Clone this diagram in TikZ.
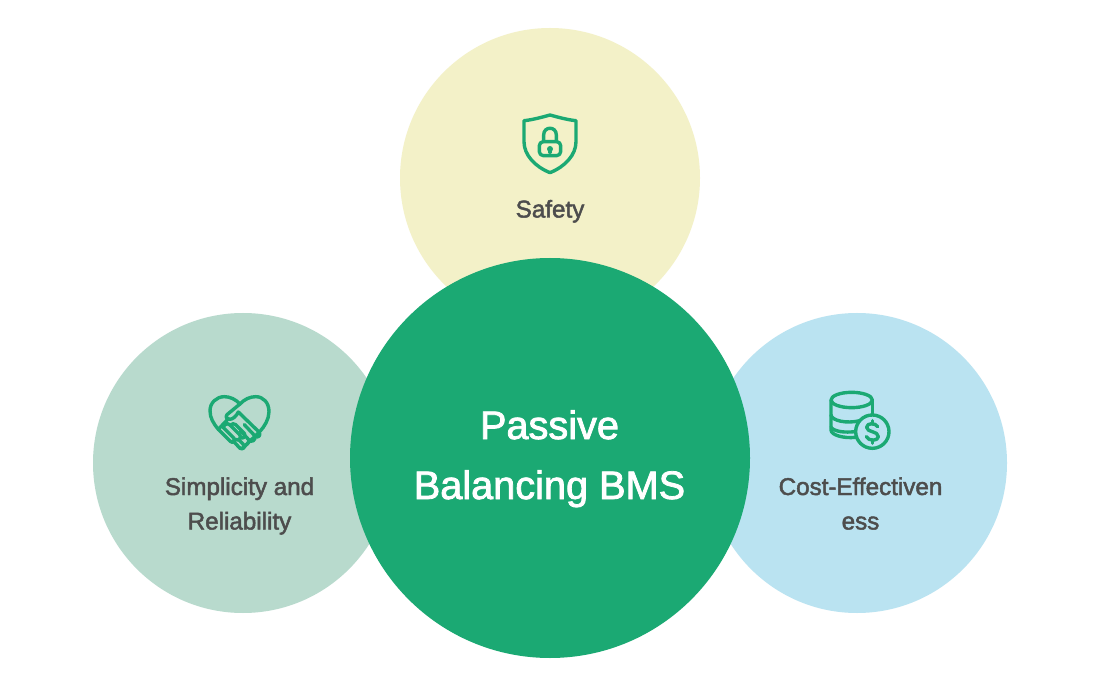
\documentclass[tikz,border=0pt]{standalone}
\usepackage{fontspec}
\setmainfont[FakeBold=2]{Liberation Sans}
\definecolor{cTop}{HTML}{F3F1C8}
\definecolor{cLeft}{HTML}{B8DACD}
\definecolor{cRight}{HTML}{BAE3F1}
\definecolor{cMain}{HTML}{1BA973}
\definecolor{cText}{HTML}{4D4D4D}
\tikzset{
  x=1pt,y=-1pt,
  disc/.style={circle,minimum size=#1,inner sep=0pt,outer sep=0pt,draw=none},
  smalltxt/.style={text=cText,align=center,anchor=base,font=\fontsize{24.2}{34.5}\selectfont,inner sep=0pt},
  bigtxt/.style={text=white,align=center,anchor=base,font=\fontsize{39.7}{60}\selectfont,inner sep=0pt},
  icon/.style={draw=cMain,line width=3.4pt,line cap=round,line join=round,fill=none},
}
\begin{document}
\begin{tikzpicture}
\useasboundingbox (0,0) rectangle (1100,700);
\fill[white] (0,0) rectangle (1100,700);
\node[disc=300pt,fill=cTop] (top) at (550,178) {};
\node[disc=300pt,fill=cLeft] (left) at (243,463) {};
\node[disc=300pt,fill=cRight] (right) at (857,463) {};
\node[disc=400pt,fill=cMain] (main) at (550,458) {};
\node[bigtxt] (maintxt) at (549.5,499) {Passive\\Balancing BMS};
\node[smalltxt] (safety) at (550,217.5) {Safety};
\node[smalltxt] (simp) at (239.5,529.5) {Simplicity and\\Reliability};
\node[smalltxt] (cost) at (860.5,529.5) {Cost-Effectiven\\ess};
% shield
\begin{scope}[shift={(500,100)},x=0.3333pt,y=-0.3333pt]
\draw[icon] (150,45) .. controls (125,52) and (95,60) .. (72,62)
  -- (72,125) .. controls (72,165) and (105,200) .. (150,218)
  .. controls (195,200) and (228,165) .. (228,125) -- (228,62)
  .. controls (205,60) and (175,52) .. (150,45) -- cycle;
\draw[icon] (131,124) -- (131,105) .. controls (131,78) and (169,78) .. (169,105) -- (169,124);
\draw[icon,rounded corners=4pt] (118,125) rectangle (182,167);
\fill[cMain] (150,147) circle (9);
\draw[icon] (150,147) -- (150,157);
\end{scope}
% heart and handshake
\begin{scope}[shift={(205,390)},x=0.3333pt,y=-0.3333pt]
\draw[icon] (40,118) .. controls (25,100) and (15,84) .. (15,62)
  .. controls (15,38) and (35,20) .. (58,20)
  .. controls (75,20) and (92,28) .. (105,42)
  .. controls (118,28) and (135,20) .. (152,20)
  .. controls (175,20) and (192,38) .. (192,65)
  .. controls (192,88) and (178,110) .. (165,124)
  -- (122,166) .. controls (116,172) and (116,180) .. (104,174);
\draw[icon] (105,42) -- (66,74) .. controls (60,82) and (66,88) .. (74,88)
  .. controls (84,88) and (94,78) .. (100,66) -- (162,126) .. controls (170,136) and (158,146) .. (150,138) -- (118,104);
\draw[icon] (150,138) .. controls (152,152) and (140,158) .. (132,150) -- (106,122);
\draw[icon] (132,150) .. controls (130,160) and (126,164) .. (122,166);
\draw[icon] (70,86) -- (40,118);
% fingers
\draw[icon] (40,118) -- (76,154) .. controls (84,162) and (94,152) .. (86,144) -- (54,112);
\draw[icon] (54,112) -- (60,104) .. controls (66,100) and (72,100) .. (76,106) -- (104,134) .. controls (112,144) and (100,154) .. (90,148);
\draw[icon] (76,106) .. controls (80,100) and (88,100) .. (92,104) -- (118,130) .. controls (124,140) and (114,148) .. (106,142);
\draw[icon] (84,152) -- (104,174) .. controls (112,180) and (122,170) .. (114,162) -- (100,148);
\end{scope}
% coins
\begin{scope}[shift={(815,380)},x=0.3333pt,y=-0.3333pt]
\draw[icon] (110,60) ellipse [x radius=62,y radius=23];
\draw[icon] (48,60) -- (48,150) .. controls (48,165) and (85,176) .. (122,172);
\draw[icon] (172,60) -- (172,105);
\draw[icon] (48,105) .. controls (50,122) and (95,132) .. (135,122);
\draw[icon] (48,142) .. controls (60,156) and (90,158) .. (120,155);
\draw[icon,fill=cRight] (172,155) circle (50);
\draw[icon] (188,140) .. controls (182,128) and (155,128) .. (155,142)
  .. controls (155,158) and (190,152) .. (190,170)
  .. controls (190,184) and (160,184) .. (154,170);
\draw[icon] (172,122) -- (172,132);
\draw[icon] (172,180) -- (172,190);
\end{scope}
\end{tikzpicture}
\end{document}
